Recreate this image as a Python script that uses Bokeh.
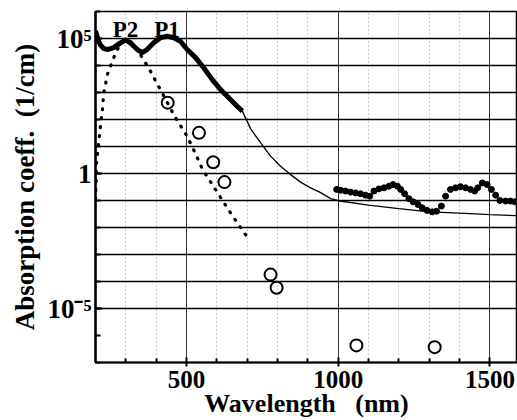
from bokeh.plotting import figure
from bokeh.models import Range1d, FixedTicker, CustomJSTickFormatter, Label
from bokeh.embed import file_html
from bokeh.resources import INLINE

# ---------------- data ----------------
# measured absorption, UV-visible (thick curve)
uv_wl = [200, 208, 216, 228, 239, 260, 282, 299, 315, 338, 354, 370, 392, 414,
         436, 458, 480, 502, 530, 557, 585, 612, 640, 667, 684]
uv_abs = [1.9e5, 9.5e4, 5.8e4, 4.2e4, 3.9e4, 4.6e4, 6.9e4, 8.7e4, 6.9e4, 3.9e4,
          3.0e4, 3.9e4, 6.9e4, 1.07e5, 1.23e5, 1.07e5, 7.9e4, 3.9e4, 1.95e4,
          8.1e3, 3.0e3, 1.29e3, 630, 310, 204]

# measured absorption, near infrared (dots)
ir_wl = [995, 1008, 1024, 1041, 1057, 1074, 1090, 1104, 1118, 1134, 1151, 1167,
         1181, 1195, 1206, 1219, 1233, 1247, 1263, 1277, 1293, 1310, 1324, 1340,
         1354, 1370, 1387, 1403, 1420, 1436, 1450, 1460, 1475, 1491, 1505, 1519,
         1533, 1552, 1568, 1582]
ir_abs = [0.257, 0.240, 0.224, 0.204, 0.191, 0.178, 0.158, 0.145, 0.224, 0.269,
          0.295, 0.339, 0.389, 0.339, 0.257, 0.178, 0.117, 0.089, 0.071, 0.054,
          0.043, 0.038, 0.040, 0.062, 0.145, 0.257, 0.295, 0.324, 0.295, 0.257,
          0.224, 0.295, 0.447, 0.389, 0.257, 0.158, 0.100, 0.095, 0.095, 0.089]

# calculated absorption (thin line)
th_wl = [670, 684, 711, 744, 777, 810, 843, 876, 909, 942, 975, 1000, 1100,
         1200, 1300, 1400, 1500, 1600]
th_abs = [280, 204, 46, 13.8, 4.4, 1.86, 0.91, 0.48, 0.295, 0.195, 0.117, 0.098,
          0.068, 0.050, 0.038, 0.034, 0.030, 0.027]

# absorption band (dotted curve)
band_wl = [200, 202, 203, 206, 208, 211, 214, 217, 220, 223, 225, 227, 233, 236,
           244, 255, 266, 288, 299, 315, 332, 354, 372, 387, 401, 414, 456, 471,
           502, 527, 552, 568, 585, 601, 618, 634, 651, 669, 687, 703]
band_abs = [0.11, 0.39, 2.1, 4.4, 8.1, 16, 32, 65, 126, 234, 480, 980, 1.8e3,
            3.5e3, 6.8e3, 1.3e4, 3.0e4, 7.9e4, 9.1e4, 7.8e4, 5.0e4, 1.95e4,
            9.3e3, 4.7e3, 2.3e3, 1.29e3, 166, 87, 24, 6.3, 1.48, 0.76, 0.39,
            0.204, 0.102, 0.054, 0.0275, 0.0141, 0.0072, 0.0039]

# open circles
circ_wl = [438, 541, 588, 625, 777, 797, 1060, 1318]
circ_abs = [420, 32, 2.6, 0.48, 1.8e-4, 5.9e-5, 4.3e-7, 3.7e-7]

# peak labels
peak_names = ["P2", "P1"]
peak_wl = [299, 436]

# axis ticks
x_major = [500, 1000, 1500]
x_minor = [300, 400, 600, 700, 800, 900, 1100, 1200, 1300, 1400, 1600]
y_major = [1e-5, 1.0, 1e5]
y_major_labels = ["10\u207b\u2075", "1", "10\u2075"]
y_decades = [1e-7, 1e-6, 1e-5, 1e-4, 1e-3, 1e-2, 1e-1, 1.0, 1e1, 1e2, 1e3,
             1e4, 1e5, 1e6]
y_grid = [1e-5, 1e-4, 1e-3, 1e-2, 1e-1, 1.0, 1e1, 1e2, 1e3, 1e4, 1e5]

FONT = "Liberation Serif"

p = figure(width=517, height=420, output_backend="svg", toolbar_location=None,
           x_range=Range1d(200, 1591), y_range=Range1d(1e-7, 1e6),
           y_axis_type="log",
           min_border_left=95, min_border_right=0, min_border_top=11,
           min_border_bottom=55)
p.background_fill_color = "white"
p.border_fill_color = "white"
p.outline_line_color = "black"
p.outline_line_width = 1.5

# grids
p.ygrid.ticker = FixedTicker(ticks=y_grid)
p.ygrid.grid_line_color = "black"
p.ygrid.grid_line_width = 1.3
p.xgrid.ticker = FixedTicker(ticks=x_major, minor_ticks=x_minor)
p.xgrid.grid_line_color = "#333333"
p.xgrid.grid_line_width = 1
p.xgrid.minor_grid_line_color = "#999999"
p.xgrid.minor_grid_line_dash = "1 3"
p.xgrid.minor_grid_line_width = 1

# x axis
xa = p.xaxis[0]
xa.ticker = FixedTicker(ticks=x_major, minor_ticks=x_minor)
xa.axis_line_width = 2
xa.axis_line_color = "black"
xa.major_tick_in = 5
xa.major_tick_out = 4
xa.major_tick_line_width = 2
xa.minor_tick_in = 4
xa.minor_tick_out = 0
xa.minor_tick_line_width = 2
xa.major_label_text_font = FONT
xa.major_label_text_font_style = "bold"
xa.major_label_text_font_size = "25px"
xa.major_label_text_color = "black"
xa.major_label_standoff = 4
xa.axis_label = "Wavelength\u00a0\u00a0\u00a0(nm)"
xa.axis_label_text_font = FONT
xa.axis_label_text_font_style = "bold"
xa.axis_label_text_font_size = "26px"
xa.axis_label_text_color = "black"
xa.axis_label_standoff = -2

# y axis
ya = p.yaxis[0]
ya.ticker = FixedTicker(ticks=y_major, minor_ticks=y_decades)
ya.formatter = CustomJSTickFormatter(args=dict(vals=y_major, labs=y_major_labels), code="""
const lt = Math.log10(tick);
for (let i = 0; i < vals.length; i++) {
  if (Math.abs(Math.log10(vals[i]) - lt) < 1e-6) { return labs[i]; }
}
return "";
""")
ya.axis_line_width = 2.5
ya.axis_line_color = "black"
ya.major_tick_in = 7
ya.major_tick_out = 0
ya.major_tick_line_width = 2
ya.minor_tick_in = 5
ya.minor_tick_out = 0
ya.minor_tick_line_width = 2
ya.major_label_text_font = FONT
ya.major_label_text_font_style = "bold"
ya.major_label_text_font_size = "27px"
ya.major_label_text_color = "black"
ya.major_label_standoff = 4
ya.axis_label = "Absorption coeff.\u00a0\u00a0(1/cm)"
ya.axis_label_text_font = FONT
ya.axis_label_text_font_style = "bold"
ya.axis_label_text_font_size = "27px"
ya.axis_label_text_color = "black"
ya.axis_label_standoff = 4

# data
p.line(band_wl, band_abs, line_color="black", line_width=3.2, line_dash="1 8",
       line_cap="round")
p.line(th_wl, th_abs, line_color="black", line_width=1.3)
p.line(uv_wl, uv_abs, line_color="black", line_width=5, line_join="round")
p.scatter(ir_wl, ir_abs, size=6, fill_color="black", line_color="black")
p.scatter(circ_wl, circ_abs, size=12, fill_color=None, line_color="black",
          line_width=2)

for name, wl in zip(peak_names, peak_wl):
    p.add_layout(Label(x=wl, y=2.2e5, text=name, text_font=FONT,
                       text_font_style="bold", text_font_size="23px",
                       text_align="center", text_baseline="middle",
                       text_color="black"))

open("out.html", "w").write(file_html(p, INLINE))
